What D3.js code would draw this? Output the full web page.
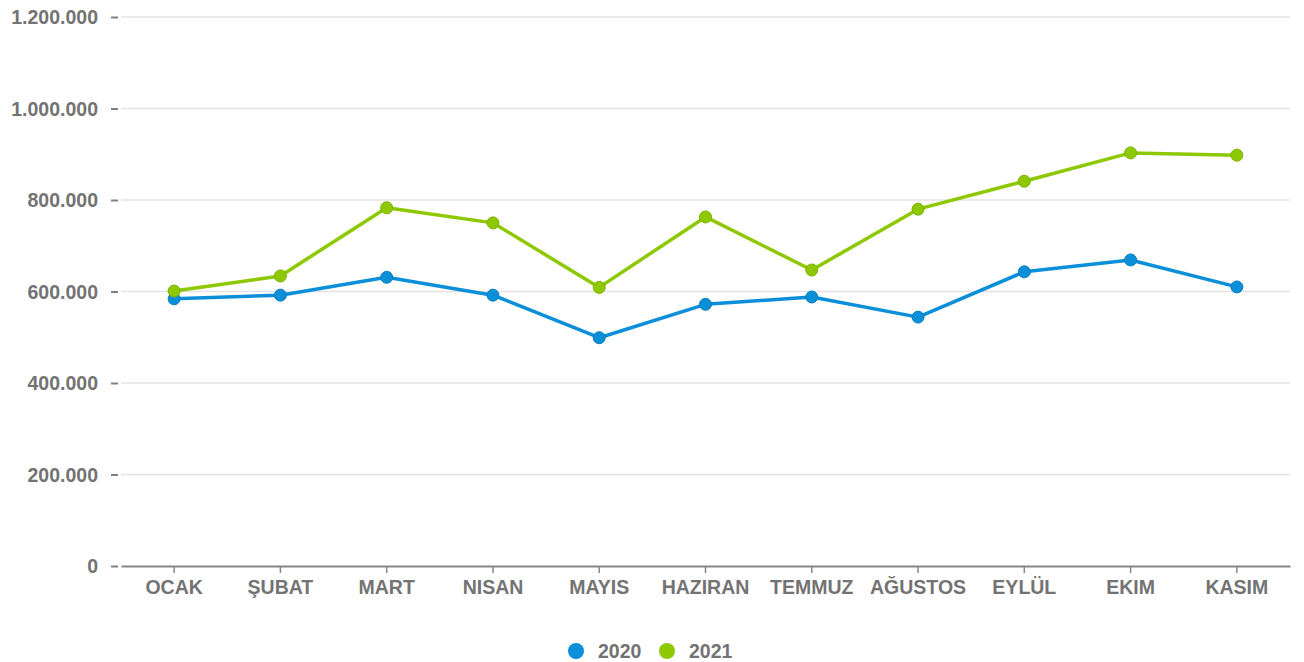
<!DOCTYPE html>
<html><head><meta charset="utf-8">
<script src="https://cdn.jsdelivr.net/npm/d3@7"></script>
<style>
html,body{margin:0;padding:0;background:#fff;}
svg text{font-family:"Liberation Sans",Arial,sans-serif;font-weight:bold;fill:#737373;}
</style></head>
<body>
<svg id="chart" width="1304" height="662"></svg>
<script>
const categories = ["OCAK","ŞUBAT","MART","NISAN","MAYIS","HAZIRAN","TEMMUZ","AĞUSTOS","EYLÜL","EKIM","KASIM"];
const series2020 = [584000,592000,631000,592000,499000,572000,588000,544000,643000,669000,610000];
const series2021 = [601000,634000,783000,750000,609000,763000,647000,780000,841000,903000,898000];
const seriesNames = ["2020","2021"];
const yTicks = [0,200000,400000,600000,800000,1000000,1200000];

const colors = ["#0b8fd8","#8dc800"];
const strokes = ["#0a7fc0","#7db200"];

const svg = d3.select("#chart");
const m = {left:121, right:1290, top:17, bottom:566};

const x = d3.scaleBand().domain(categories).range([m.left, m.right]);
const y = d3.scaleLinear().domain([0,1200000]).range([m.bottom, m.top]);

const fmt = v => d3.format(",")(v).replace(/,/g,".");

// grid
svg.append("g").selectAll("line").data(yTicks.filter(d=>d>0)).join("line")
  .attr("x1", m.left).attr("x2", m.right)
  .attr("y1", d=>y(d)).attr("y2", d=>y(d))
  .attr("stroke","#e3e3e3").attr("stroke-width",1.5);

// y axis
const yAxis = svg.append("g").attr("transform",`translate(${m.left-3},0)`)
  .call(d3.axisLeft(y).tickValues(yTicks).tickFormat(fmt).tickSize(7).tickPadding(13));
yAxis.select(".domain").remove();
yAxis.selectAll(".tick line").attr("stroke","#808080").attr("stroke-width",2);
yAxis.selectAll(".tick text").style("font-size","19.5px").attr("dy","0.35em");

// x axis
const xAxis = svg.append("g").attr("transform",`translate(0,${m.bottom})`)
  .call(d3.axisBottom(x).tickSize(7).tickPadding(7).tickSizeOuter(0));
xAxis.select(".domain").attr("stroke","#858585").attr("stroke-width",2);
xAxis.selectAll(".tick line").attr("stroke","#858585").attr("stroke-width",1.5);
xAxis.selectAll(".tick text").style("font-size","19.5px");

const cx = d => x(d) + x.bandwidth()/2;
const data = [series2020, series2021];

const line = d3.line().x((d,i)=>cx(categories[i])).y(d=>y(d));

data.forEach((s,k)=>{
  svg.append("path").datum(s).attr("d", line)
    .attr("fill","none").attr("stroke",colors[k]).attr("stroke-width",3.5)
    .attr("stroke-linejoin","round");
  svg.append("g").selectAll("circle").data(s).join("circle")
    .attr("cx",(d,i)=>cx(categories[i])).attr("cy",d=>y(d)).attr("r",6)
    .attr("fill",colors[k]).attr("stroke",strokes[k]).attr("stroke-width",1);
});

// legend
const legendX = [576, 667];
seriesNames.forEach((n,k)=>{
  const g = svg.append("g").attr("transform",`translate(${legendX[k]},651)`);
  g.append("circle").attr("r",8).attr("fill",colors[k]);
  g.append("text").attr("x",22).attr("dy","0.35em").style("font-size","19.5px").text(n);
});
</script>
</body></html>
